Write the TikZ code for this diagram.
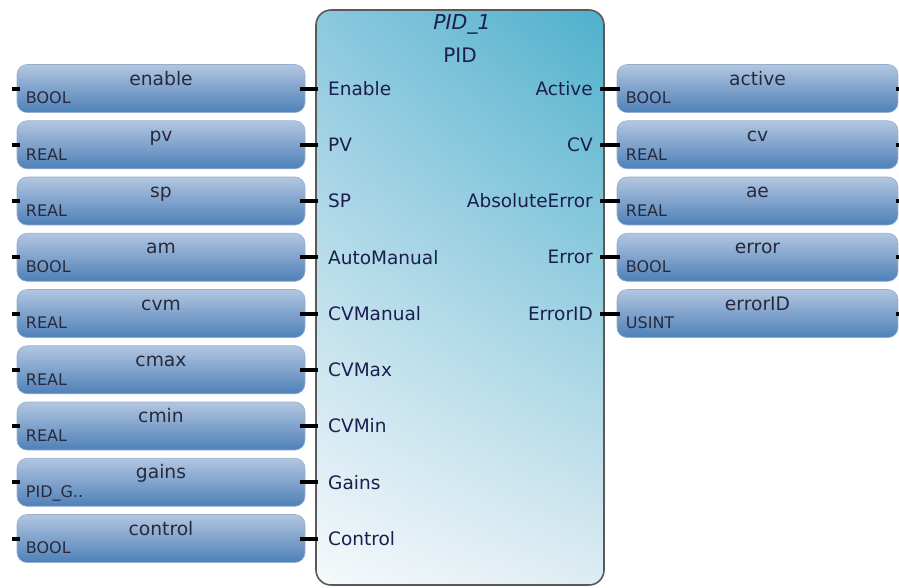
\documentclass[tikz,border=0pt]{standalone}
\usepackage{fontspec}
\setmainfont{DejaVu Sans}
\usepackage{tikz}
\usetikzlibrary{positioning,shadings}
\definecolor{blockul}{RGB}{140,200,222}
\definecolor{blockur}{RGB}{78,176,204}
\definecolor{blockll}{RGB}{246,249,251}
\definecolor{blocklr}{RGB}{222,236,243}
\definecolor{vartop}{RGB}{178,198,224}
\definecolor{varbot}{RGB}{78,128,184}
\definecolor{varedge}{RGB}{150,175,205}
\definecolor{portink}{RGB}{28,30,78}
\definecolor{nameink}{RGB}{40,42,60}

\tikzset{
  var/.style={rounded corners=10pt,minimum width=288pt,minimum height=48pt,inner sep=0pt,
    top color=vartop,bottom color=varbot,draw=varedge,line width=0.6pt},
  rvar/.style={var,minimum width=281pt},
  vname/.style={anchor=base,yshift=-21pt,inner sep=0pt,text=nameink,font=\fontsize{18.7}{19}\selectfont},
  vtype/.style={anchor=base west,xshift=9pt,yshift=9pt,inner sep=0pt,text=nameink,font=\fontsize{16}{17}\selectfont},
  inport/.style={anchor=west,inner xsep=10pt,inner ysep=0pt,text=portink,font=\fontsize{18.5}{19}\selectfont},
  outport/.style={anchor=east,inner xsep=7pt,inner ysep=0pt,text=portink,font=\fontsize{18.5}{19}\selectfont},
  pin/.style={line width=4pt,black},
}

\begin{document}
\begin{tikzpicture}[x=1pt,y=-1pt]
\useasboundingbox (0,0) rectangle (899,587);
% function block
\shade[rounded corners=15pt,upper left=blockul,upper right=blockur,lower left=blockll,lower right=blocklr] (316,10) rectangle (604,585);
\draw[rounded corners=15pt,line width=1.6pt,black!65] (316,10) rectangle (604,585);
\node[text=portink,font=\fontsize{20.5}{21}\selectfont\itshape] (inst) at (462,24) {PID\_1};
\node[text=portink,font=\fontsize{20}{21}\selectfont] (ftype) at (460,55) {PID};

% inputs
\node[var,label={[vname]north:enable},label={[vtype]south west:BOOL}] (venable) at (161,88.5) {};
\node[var,label={[vname]north:pv},label={[vtype]south west:REAL}] (vpv) at (161,144.75) {};
\node[var,label={[vname]north:sp},label={[vtype]south west:REAL}] (vsp) at (161,201) {};
\node[var,label={[vname]north:am},label={[vtype]south west:BOOL}] (vam) at (161,257.25) {};
\node[var,label={[vname]north:cvm},label={[vtype]south west:REAL}] (vcvm) at (161,313.5) {};
\node[var,label={[vname]north:cmax},label={[vtype]south west:REAL}] (vcmax) at (161,369.75) {};
\node[var,label={[vname]north:cmin},label={[vtype]south west:REAL}] (vcmin) at (161,426) {};
\node[var,label={[vname]north:gains},label={[vtype]south west:PID\_G..}] (vgains) at (161,482.25) {};
\node[var,label={[vname]north:control},label={[vtype]south west:BOOL}] (vcontrol) at (161,538.5) {};

\node[inport] (pEnable) at (318,88.5) {Enable};
\node[inport] (pPV) at (318,144.75) {PV};
\node[inport] (pSP) at (318,201) {SP};
\node[inport] (pAutoManual) at (318,257.25) {AutoManual};
\node[inport] (pCVManual) at (318,313.5) {CVManual};
\node[inport] (pCVMax) at (318,369.75) {CVMax};
\node[inport] (pCVMin) at (318,426) {CVMin};
\node[inport] (pGains) at (318,482.25) {Gains};
\node[inport] (pControl) at (318,538.5) {Control};

\draw[pin,shorten <=-5pt] (venable.east) -- (pEnable.west);
\draw[pin,shorten <=-5pt] (vpv.east) -- (pPV.west);
\draw[pin,shorten <=-5pt] (vsp.east) -- (pSP.west);
\draw[pin,shorten <=-5pt] (vam.east) -- (pAutoManual.west);
\draw[pin,shorten <=-5pt] (vcvm.east) -- (pCVManual.west);
\draw[pin,shorten <=-5pt] (vcmax.east) -- (pCVMax.west);
\draw[pin,shorten <=-5pt] (vcmin.east) -- (pCVMin.west);
\draw[pin,shorten <=-5pt] (vgains.east) -- (pGains.west);
\draw[pin,shorten <=-5pt] (vcontrol.east) -- (pControl.west);

\draw[pin,shorten <=-3pt] (venable.west) -- ++(-5,0);
\draw[pin,shorten <=-3pt] (vpv.west) -- ++(-5,0);
\draw[pin,shorten <=-3pt] (vsp.west) -- ++(-5,0);
\draw[pin,shorten <=-3pt] (vam.west) -- ++(-5,0);
\draw[pin,shorten <=-3pt] (vcvm.west) -- ++(-5,0);
\draw[pin,shorten <=-3pt] (vcmax.west) -- ++(-5,0);
\draw[pin,shorten <=-3pt] (vcmin.west) -- ++(-5,0);
\draw[pin,shorten <=-3pt] (vgains.west) -- ++(-5,0);
\draw[pin,shorten <=-3pt] (vcontrol.west) -- ++(-5,0);

% outputs
\node[outport] (pActive) at (600,88.5) {Active};
\node[outport] (pCV) at (600,144.75) {CV};
\node[outport] (pAbsoluteError) at (600,201) {AbsoluteError};
\node[outport] (pError) at (600,257.25) {Error};
\node[outport] (pErrorID) at (600,313.5) {ErrorID};

\node[rvar,label={[vname]north:active},label={[vtype]south west:BOOL}] (vactive) at (757.5,88.5) {};
\node[rvar,label={[vname]north:cv},label={[vtype]south west:REAL}] (vcv) at (757.5,144.75) {};
\node[rvar,label={[vname]north:ae},label={[vtype]south west:REAL}] (vae) at (757.5,201) {};
\node[rvar,label={[vname]north:error},label={[vtype]south west:BOOL}] (verror) at (757.5,257.25) {};
\node[rvar,label={[vname]north:errorID},label={[vtype]south west:USINT}] (verrorID) at (757.5,313.5) {};

\draw[pin,shorten >=-3pt] (pActive.east) -- (vactive.west);
\draw[pin,shorten >=-3pt] (pCV.east) -- (vcv.west);
\draw[pin,shorten >=-3pt] (pAbsoluteError.east) -- (vae.west);
\draw[pin,shorten >=-3pt] (pError.east) -- (verror.west);
\draw[pin,shorten >=-3pt] (pErrorID.east) -- (verrorID.west);

\draw[pin,shorten <=-2pt] (vactive.east) -- ++(3,0);
\draw[pin,shorten <=-2pt] (vcv.east) -- ++(3,0);
\draw[pin,shorten <=-2pt] (vae.east) -- ++(3,0);
\draw[pin,shorten <=-2pt] (verror.east) -- ++(3,0);
\draw[pin,shorten <=-2pt] (verrorID.east) -- ++(3,0);
\end{tikzpicture}
\end{document}
